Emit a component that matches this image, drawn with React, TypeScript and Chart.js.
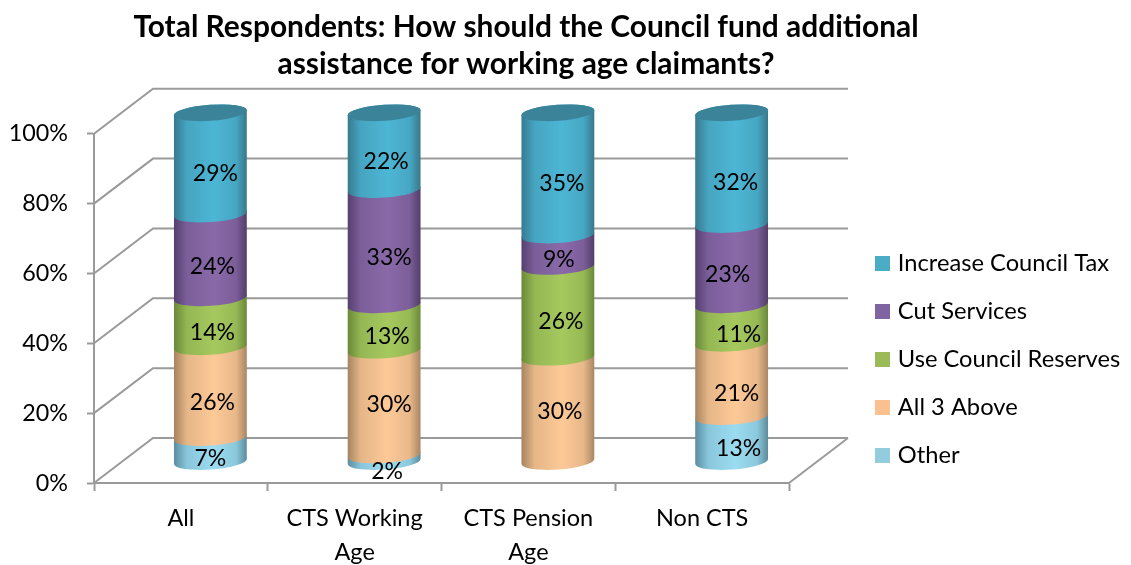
import { useEffect, useRef } from "react";
import { Chart, registerables } from "chart.js";

Chart.register(...registerables);

const categories = [["All"], ["CTS Working", "Age"], ["CTS Pension", "Age"], ["Non CTS"]];
const other = [7, 2, 0, 13];
const all3Above = [26, 30, 30, 21];
const useReserves = [14, 13, 26, 11];
const cutServices = [24, 33, 9, 23];
const increaseTax = [29, 22, 35, 32];
const yTicks = [0, 20, 40, 60, 80, 100];

const FONT = "Lato";
const TEXT = "#000000";
const GRID = "#9a9a9a";

// Depth of the pseudo-3D box and of the cylinders standing in its middle.
const BOX_DX = 59;
const BOX_DY = -45;
const BAR_DX = 29.5;
const BAR_DY = -21;
const ELLIPSE_RY = 8;
const ELLIPSE_ROT = -0.07;

// edge, highlight, edge
const shades: Record<string, [string, string, string]> = {
  "Increase Council Tax": ["#367a8f", "#4cb6d5", "#37788c"],
  "Cut Services": ["#54406f", "#8a69a9", "#523e69"],
  "Use Council Reserves": ["#6a8838", "#a5c95e", "#6b883b"],
  "All 3 Above": ["#a6845f", "#fdc997", "#a98662"],
  Other: ["#5a8da1", "#9bdcf1", "#5c8b9c"],
};
const CAP_COLOR = "#3b8399";

// Hand placement of the value labels around each segment's centre: [series][category]
const labelShift: [number, number][][] = [
  [[0, 9], [3, 13], [0, 0], [7, 10]],
  [[2, 10], [5, 2], [2, 2], [5, 14]],
  [[2, 10], [3, 9], [3, 10], [7, 11]],
  [[2, 11], [5, 10], [1, 9], [-4, 10]],
  [[5, 10], [2, 10], [4, 10], [4, 14]],
];

function mix(a: string, b: string, t: number) {
  const p = (s: string, k: number) => parseInt(s.slice(k, k + 2), 16);
  const ch = (k: number) => Math.round(p(a, k) + (p(b, k) - p(a, k)) * t);
  return `rgb(${ch(1)},${ch(3)},${ch(5)})`;
}

function cylinderSegment(ctx: CanvasRenderingContext2D, x: number, top: number, base: number, rx: number) {
  ctx.beginPath();
  ctx.ellipse(x, base, rx, ELLIPSE_RY, ELLIPSE_ROT, 0, Math.PI);
  ctx.ellipse(x, top, rx, ELLIPSE_RY, ELLIPSE_ROT, Math.PI, Math.PI * 2);
  ctx.closePath();
}

const boxPlugin = {
  id: "box3d",
  afterLayout(chart: any) {
    // Title centres on the whole figure; legend is pinned right of the box.
    const t = chart.titleBlock;
    t.left = 26;
    t.right = 1026;
    const l = chart.legend;
    l.left = 854.7;
    l.right = 1131;
    l.top = 227.35;
    l.bottom = 565;
  },
  beforeDatasetsDraw(chart: any) {
    const { ctx, scales } = chart;
    const xs = scales.x;
    const ys = scales.y;
    const x0 = xs.left;
    const x1 = xs.right;
    ctx.save();
    ctx.strokeStyle = GRID;
    ctx.lineWidth = 2;
    yTicks.forEach((v) => {
      const y = ys.getPixelForValue(v);
      ctx.beginPath();
      ctx.moveTo(x0, y);
      ctx.lineTo(x0 + BOX_DX, y + BOX_DY);
      ctx.lineTo(x1 + BOX_DX, y + BOX_DY);
      ctx.stroke();
    });
    const y0 = ys.getPixelForValue(0);
    ctx.beginPath();
    ctx.moveTo(x1, y0);
    ctx.lineTo(x1 + BOX_DX, y0 + BOX_DY);
    ctx.stroke();
    ctx.restore();
  },
  // Cylinders replace the flat bars.
  beforeDatasetDraw() {
    return false;
  },
  afterDatasetsDraw(chart: any) {
    const { ctx } = chart;
    const sets = chart.data.datasets;
    ctx.save();
    categories.forEach((_, i) => {
      let topBar: any = null;
      sets.forEach((ds: any, j: number) => {
        const el = chart.getDatasetMeta(j).data[i];
        if (!ds.data[i]) return;
        const { x, y, base, width } = el.getProps(["x", "y", "base", "width"], true);
        const cx = x + BAR_DX;
        const rx = width / 2;
        const [a, b, c] = shades[ds.label];
        const g = ctx.createLinearGradient(cx - rx, 0, cx + rx, 0);
        g.addColorStop(0, a);
        g.addColorStop(0.18, mix(a, b, 0.72));
        g.addColorStop(0.55, b);
        g.addColorStop(0.85, mix(c, b, 0.75));
        g.addColorStop(1, c);
        cylinderSegment(ctx, cx, y + BAR_DY, base + BAR_DY, rx);
        ctx.fillStyle = g;
        ctx.fill();
        topBar = { cx, top: y + BAR_DY, rx };
      });
      if (topBar) {
        ctx.beginPath();
        ctx.ellipse(topBar.cx, topBar.top, topBar.rx, ELLIPSE_RY, ELLIPSE_ROT, 0, Math.PI * 2);
        ctx.fillStyle = CAP_COLOR;
        ctx.fill();
      }
    });
    // Value labels go over every cylinder.
    ctx.fillStyle = TEXT;
    ctx.font = `23px ${FONT}`;
    ctx.textAlign = "center";
    ctx.textBaseline = "middle";
    sets.forEach((ds: any, j: number) => {
      ds.data.forEach((v: number, i: number) => {
        if (!v) return;
        const el = chart.getDatasetMeta(j).data[i];
        const { x, y, base } = el.getProps(["x", "y", "base"], true);
        const [sx, sy] = labelShift[j][i];
        ctx.fillText(`${v}%`, x + BAR_DX + sx, (y + base) / 2 + BAR_DY + sy);
      });
    });
    ctx.restore();
  },
};

export default function App() {
  const ref = useRef<HTMLCanvasElement>(null);
  useEffect(() => {
    if (!ref.current) return;
    const series = (label: string, data: number[], color: string) => ({
      label,
      data,
      backgroundColor: color,
      borderColor: color,
      borderWidth: 8,
      barThickness: 73,
    });
    const chart = new Chart(ref.current, {
      type: "bar",
      data: {
        labels: categories as any,
        datasets: [
          series("Other", other, "#93cddd"),
          series("All 3 Above", all3Above, "#fac090"),
          series("Use Council Reserves", useReserves, "#9bbb59"),
          series("Cut Services", cutServices, "#8064a2"),
          series("Increase Council Tax", increaseTax, "#4bacc6"),
        ],
      },
      options: {
        responsive: false,
        animation: false,
        layout: { padding: { top: 0, left: 0, right: 79, bottom: 0 } },
        plugins: {
          tooltip: { enabled: false },
          title: {
            display: true,
            text: [
              "Total Respondents: How should the Council fund additional",
              "assistance for working age claimants?",
            ],
            color: TEXT,
            font: { family: FONT, size: 29.9, weight: "bold", lineHeight: 1.267 },
            padding: { top: 8, bottom: 50 },
          },
          legend: {
            position: "right",
            align: "start",
            reverse: true,
            labels: {
              color: TEXT,
              font: { family: FONT, size: 23.7 },
              boxWidth: 7,
              boxHeight: 7,
              padding: 24.3,
            },
          },
        },
        scales: {
          x: {
            stacked: true,
            offset: true,
            border: { display: true, color: GRID, width: 2 },
            grid: { drawOnChartArea: false, drawTicks: true, tickLength: 8, tickColor: GRID, tickWidth: 2, offset: true },
            afterFit(axis: any) {
              axis.height = 82;
            },
            ticks: {
              color: TEXT,
              font: { family: FONT, size: 23.5, lineHeight: 1.447 },
              padding: 10,
              maxRotation: 0,
              autoSkip: false,
            },
          },
          y: {
            stacked: true,
            min: 0,
            max: 100,
            border: { display: true, color: GRID, width: 2 },
            grid: { drawOnChartArea: false, drawTicks: true, tickLength: 7, tickColor: GRID, tickWidth: 2 },
            afterFit(axis: any) {
              axis.width = 94;
            },
            afterBuildTicks(axis: any) {
              axis.ticks = yTicks.map((value) => ({ value }));
            },
            ticks: {
              color: TEXT,
              font: { family: FONT, size: 23.3 },
              padding: 19,
              callback: (v: any) => `${v}%`,
            },
          },
        },
      },
      plugins: [boxPlugin],
    } as any);
    return () => chart.destroy();
  }, []);
  return (
    <div style={{ position: "fixed", left: 0, top: 0, width: 1131, height: 565, background: "#fff" }}>
      <canvas ref={ref} width={1131} height={565} style={{ display: "block" }} />
    </div>
  );
}
